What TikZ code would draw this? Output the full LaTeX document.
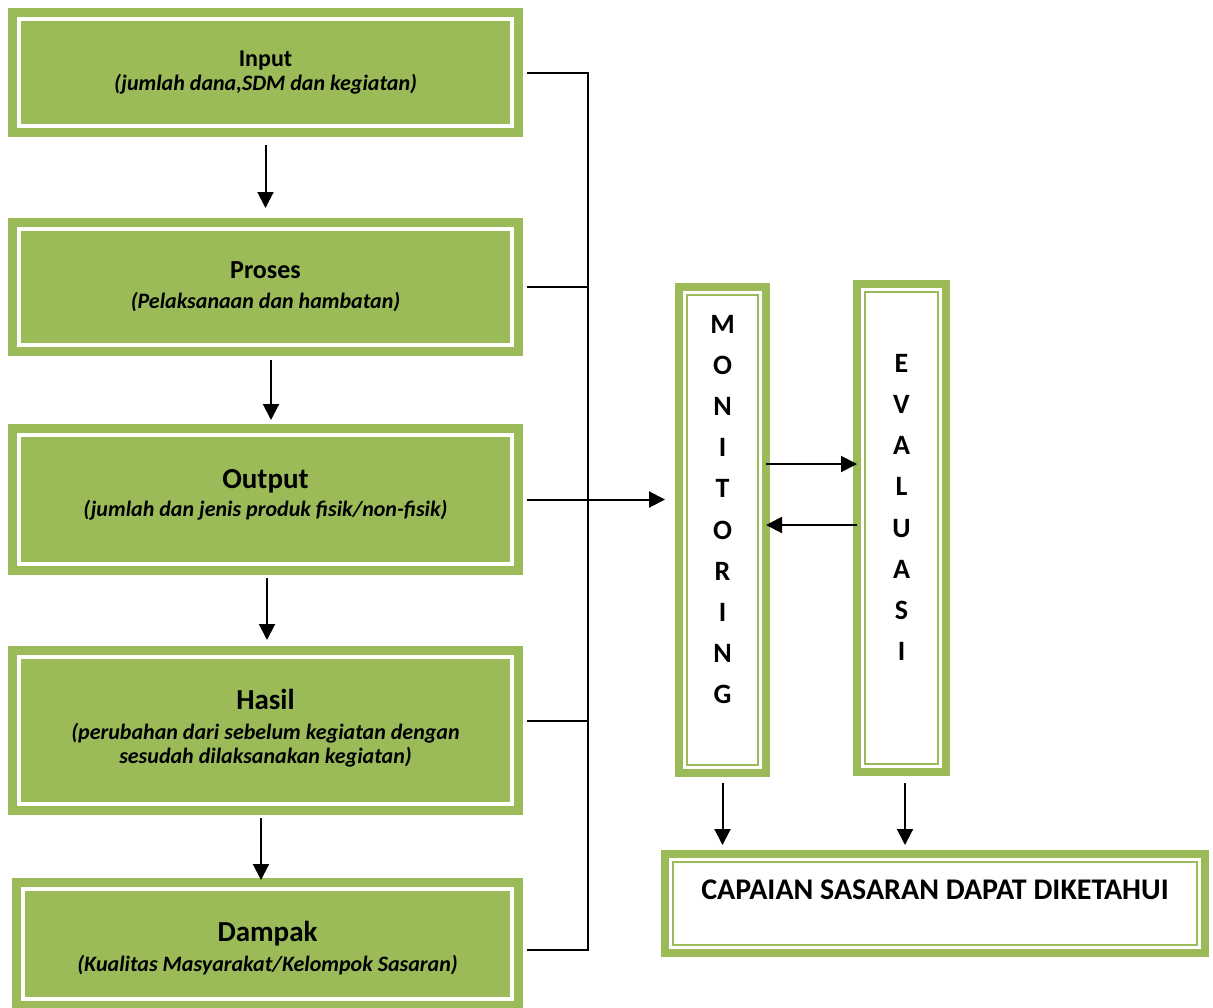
\documentclass[tikz,border=0pt]{standalone}
\usepackage{fontspec}
\setmainfont{Carlito}
\usetikzlibrary{arrows.meta}
\definecolor{boxgreen}{HTML}{9BBB59}
\newcommand{\boxhead}[2]{{\fontsize{#1}{#1}\selectfont\bfseries #2}}
\newcommand{\boxnote}[1]{{\fontsize{11}{13}\selectfont\bfseries\itshape #1}}
\begin{document}
\begin{tikzpicture}[x=0.5pt,y=-0.5pt,
  flowbox/.style={fill=boxgreen, draw=boxgreen, double=white, double distance=2pt, line width=4.5pt, align=center, inner sep=0pt, outer sep=0pt, minimum width=246.5pt},
  framebox/.style={fill=white, draw=boxgreen, line width=4pt, inner sep=0pt, outer sep=0pt,
    path picture={\draw[boxgreen, line width=1pt] ([shift={(4pt,-4pt)}]path picture bounding box.north west) rectangle ([shift={(-4pt,4pt)}]path picture bounding box.south east);}},
  letters/.style={align=center, font=\fontsize{14}{20.6}\selectfont\bfseries},
  link/.style={draw=black, line width=1pt},
  arrow/.style={link, -{Triangle[length=8pt,width=8pt]}}]
\useasboundingbox (0,0) rectangle (1213,1007);
% Drawing boxes on the left
\node[flowbox, minimum height=53.5pt] (input) at (265.5,72.5) {\boxhead{12}{Input}\\\boxnote{(jumlah dana,SDM dan kegiatan)}};
\node[flowbox, minimum height=58pt] (proses) at (265.5,287) {\boxhead{13}{Proses}\\[3pt]\boxnote{(Pelaksanaan dan hambatan)}};
\node[flowbox, minimum height=64.5pt] (output) at (265.5,499.5) {\boxhead{14.5}{Output}\\[2pt]\boxnote{(jumlah dan jenis produk fisik/non-fisik)}\\[-5pt]\mbox{}};
\node[flowbox, minimum height=73.5pt] (hasil) at (265.5,730.5) {\boxhead{14.5}{Hasil}\\[3pt]\boxnote{(perubahan dari sebelum kegiatan dengan}\\\boxnote{sesudah dilaksanakan kegiatan)}\\[-8pt]\mbox{}};
\node[flowbox, minimum width=244.5pt, minimum height=55pt] (dampak) at (267.5,944) {\boxhead{14.5}{Dampak}\\[3pt]\boxnote{(Kualitas Masyarakat/Kelompok Sasaran)}\\[-14pt]\mbox{}};
% Drawing boxes on the right
\node[framebox, letters, minimum width=43.5pt, minimum height=243pt] (monitoring) at (722.5,530) {M\\O\\N\\I\\T\\O\\R\\I\\N\\G\\\mbox{}};
\node[framebox, letters, minimum width=44.5pt, minimum height=244pt] (evaluasi) at (901.5,528) {E\\V\\A\\L\\U\\A\\S\\I\\\mbox{}};
\node[framebox, minimum width=270pt, minimum height=49.5pt, text height=10pt, text depth=14.5pt, font=\fontsize{15}{17}\selectfont\bfseries] (capaian) at (935,903.5) {CAPAIAN SASARAN DAPAT DIKETAHUI};
% Done with boxes; drawing arrows down the left
\draw[arrow, shorten <=9.5pt, shorten >=10.5pt] (input) -- (proses);
\draw[arrow, shorten <=7.5pt, shorten >=7.5pt] ([xshift=2.75pt]proses.south) -- ([xshift=2.75pt]output.north);
\draw[arrow, shorten <=7pt, shorten >=8.5pt] ([xshift=0.75pt]output.south) -- ([xshift=0.75pt]hasil.north);
\draw[arrow, shorten <=7pt, shorten >=4.5pt] ([xshift=-2.25pt]hasil.south) -- ([xshift=-2.25pt]hasil.south |- dampak.north);
% Collecting line
\coordinate (bus) at (588,70);
\draw[link, shorten <=7.5pt, shorten >=7.5pt] (input.east) -- (input.east -| bus) -- ([yshift=-3pt]dampak.east -| bus) -- ([yshift=-3pt]dampak.east);
\foreach \b/\s in {proses/0pt, hasil/5pt}
  \draw[link, shorten <=7.5pt] ([yshift=\s]\b.east) -- ([yshift=\s]\b.east -| bus);
\draw[arrow, shorten <=7.5pt, shorten >=7pt] (output.east) -- (output.east -| monitoring.west);
% Monitoring and evaluasi
\draw[arrow] ([yshift=33pt]monitoring.east) -- ([yshift=33pt]monitoring.east -| evaluasi.west);
\draw[arrow] ([yshift=2.5pt]monitoring.east -| evaluasi.west) -- ([yshift=2.5pt]monitoring.east);
\draw[arrow, shorten <=5pt, shorten >=4.5pt] (monitoring.south) -- (monitoring.south |- capaian.north);
\draw[arrow, shorten <=5.5pt, shorten >=4.5pt] ([xshift=1.75pt]evaluasi.south) -- ([xshift=1.75pt]evaluasi.south |- capaian.north);
\end{tikzpicture}
\end{document}
